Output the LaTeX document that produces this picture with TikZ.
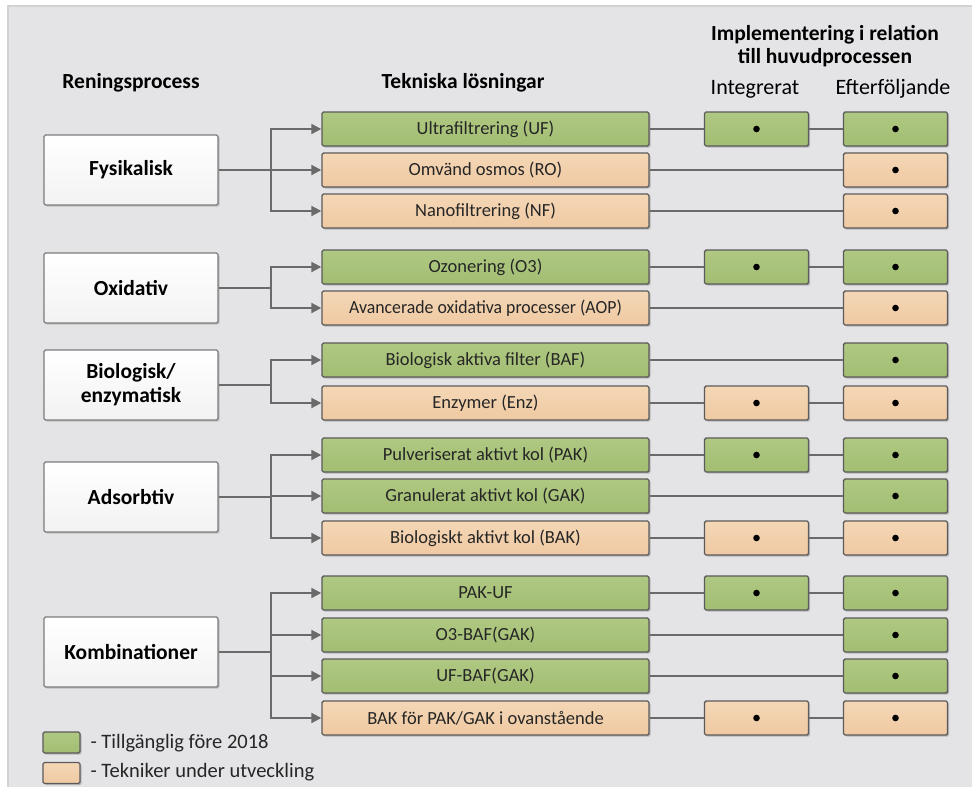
\documentclass[tikz,border=0pt]{standalone}
\usepackage{fontspec}
\setmainfont{Carlito}
\usetikzlibrary{arrows.meta,shadows}
\definecolor{bg}{HTML}{E4E3E6}
\definecolor{frame}{HTML}{D2D1D4}
\definecolor{grtop}{HTML}{AFC882}
\definecolor{grbot}{HTML}{A2BE72}
\definecolor{ortop}{HTML}{F4D7B6}
\definecolor{orbot}{HTML}{EFC9A2}
\definecolor{edge}{HTML}{5B5B5B}
\definecolor{ln}{HTML}{6A6A6A}
\definecolor{txt}{HTML}{262626}
\tikzset{
  base/.style={draw=edge,line width=1.4pt,rounded corners=1.5pt,minimum height=34pt,
    inner sep=0pt,text=txt,font=\fontsize{18.5}{21}\selectfont,
    drop shadow={shadow xshift=1.5pt,shadow yshift=-1.5pt,opacity=.35,fill=black!60}},
  gbox/.style={base,top color=grtop,bottom color=grbot},
  obox/.style={base,top color=ortop,bottom color=orbot},
  mid/.style={minimum width=327pt},
  imp/.style={minimum width=104pt},
  proc/.style={draw=edge!80,line width=1.4pt,rounded corners=1.5pt,minimum width=174pt,minimum height=70pt,
    top color=white,bottom color=gray!10,align=center,font=\bfseries\fontsize{21.5}{24}\selectfont,text=black,
    drop shadow={shadow xshift=1.5pt,shadow yshift=-1.5pt,opacity=.3,fill=black!60}},
  arr/.style={draw=ln,line width=2pt,-{Triangle[length=10pt,width=10pt]}},
  con/.style={draw=ln,line width=2pt},
  hdr/.style={font=\bfseries\fontsize{21.5}{23}\selectfont,text=black,align=center},
  sub/.style={font=\fontsize{22}{24}\selectfont,text=black},
  lg/.style={font=\fontsize{20.5}{23}\selectfont,text=txt,anchor=west},
}
\newcommand{\dotmark}[1]{\fill[black] (#1) circle (3.3pt);}
\begin{document}
\begin{tikzpicture}[x=1pt,y=-1pt]
\useasboundingbox (0,0) rectangle (972,787);
\fill[white] (0,0) rectangle (972,787);
\fill[bg] (8,6) rectangle (972,787);
\draw[frame,line width=1.2pt] (8,787) -- (8,6) -- (972,6);
% headers
\node[hdr] (h1) at (131,83) {Reningsprocess};
\node[hdr] (h2) at (463,83) {Tekniska lösningar};
\node[hdr] (h3) at (825,46.5) {Implementering i relation\\till huvudprocessen};
\node[sub] (h4) at (755,89) {Integrerat};
\node[sub] (h5) at (893,89) {Efterföljande};
% process boxes
\node[proc] (P1) at (131,170) {Fysikalisk};
\node[proc] (P2) at (131,288) {Oxidativ};
\node[proc] (P3) at (131,385) {Biologisk/\\enzymatisk};
\node[proc] (P4) at (131,497) {Adsorbtiv};
\node[proc] (P5) at (131,652) {Kombinationer};
% technique boxes
\node[gbox,mid] (T1) at (485.5,129) {Ultrafiltrering (UF)};
\node[obox,mid] (T2) at (485.5,170) {Omvänd osmos (RO)};
\node[obox,mid] (T3) at (485.5,211) {Nanofiltrering (NF)};
\node[gbox,mid] (T4) at (485.5,267) {Ozonering (O3)};
\node[obox,mid] (T5) at (485.5,308) {\scalebox{0.96}[1]{Avancerade oxidativa processer (AOP)}};
\node[gbox,mid] (T6) at (485.5,360) {Biologisk aktiva filter (BAF)};
\node[obox,mid] (T7) at (485.5,403) {Enzymer (Enz)};
\node[gbox,mid] (T8) at (485.5,455) {Pulveriserat aktivt kol (PAK)};
\node[gbox,mid] (T9) at (485.5,496) {Granulerat aktivt kol (GAK)};
\node[obox,mid] (T10) at (485.5,538) {Biologiskt aktivt kol (BAK)};
\node[gbox,mid] (T11) at (485.5,593) {PAK-UF};
\node[gbox,mid] (T12) at (485.5,635) {O3-BAF(GAK)};
\node[gbox,mid] (T13) at (485.5,676) {UF-BAF(GAK)};
\node[obox,mid] (T14) at (485.5,718) {BAK för PAK/GAK i ovanstående};
% integrated boxes
\node[gbox,imp] (I1) at (756.5,129) {};
\node[gbox,imp] (I4) at (756.5,267) {};
\node[obox,imp] (I7) at (756.5,403) {};
\node[gbox,imp] (I8) at (756.5,455) {};
\node[obox,imp] (I10) at (756.5,538) {};
\node[gbox,imp] (I11) at (756.5,593) {};
\node[obox,imp] (I14) at (756.5,718) {};
% subsequent boxes
\node[gbox,imp] (E1) at (895.5,129) {};
\node[obox,imp] (E2) at (895.5,170) {};
\node[obox,imp] (E3) at (895.5,211) {};
\node[gbox,imp] (E4) at (895.5,267) {};
\node[obox,imp] (E5) at (895.5,308) {};
\node[gbox,imp] (E6) at (895.5,360) {};
\node[obox,imp] (E7) at (895.5,403) {};
\node[gbox,imp] (E8) at (895.5,455) {};
\node[gbox,imp] (E9) at (895.5,496) {};
\node[obox,imp] (E10) at (895.5,538) {};
\node[gbox,imp] (E11) at (895.5,593) {};
\node[gbox,imp] (E12) at (895.5,635) {};
\node[gbox,imp] (E13) at (895.5,676) {};
\node[obox,imp] (E14) at (895.5,718) {};
\foreach \n in {I1,I4,I7,I8,I10,I11,I14,E1,E2,E3,E4,E5,E6,E7,E8,E9,E10,E11,E12,E13,E14}{\dotmark{\n.center}}
% branch arrows
\foreach \t in {T1,T2,T3}{\draw[arr] (P1.east) -- ++(52,0) |- (\t.west);}
\foreach \t in {T4,T5}{\draw[arr] (P2.east) -- ++(52,0) |- (\t.west);}
\foreach \t in {T6,T7}{\draw[arr] (P3.east) -- ++(52,0) |- (\t.west);}
\foreach \t in {T8,T9,T10}{\draw[arr] (P4.east) -- ++(52,0) |- (\t.west);}
\foreach \t in {T11,T12,T13,T14}{\draw[arr] (P5.east) -- ++(52,0) |- (\t.west);}
% implementation connectors
\foreach \k in {1,4,7,8,10,11,14}{\draw[con] (T\k.east) -- (I\k.west); \draw[con] (I\k.east) -- (E\k.west);}
\foreach \k in {2,3,5,6,9,12,13}{\draw[con] (T\k.east) -- (E\k.west);}
% legend
\node[gbox,minimum width=37pt,minimum height=21pt] (LG) at (61.5,742.5) {};
\node[obox,minimum width=37pt,minimum height=21pt] (LO) at (61.5,773) {};
\node[lg] (LGt) at (87,743) {- Tillgänglig före 2018};
\node[lg] (LOt) at (87,772) {- Tekniker under utveckling};
\end{tikzpicture}
\end{document}
